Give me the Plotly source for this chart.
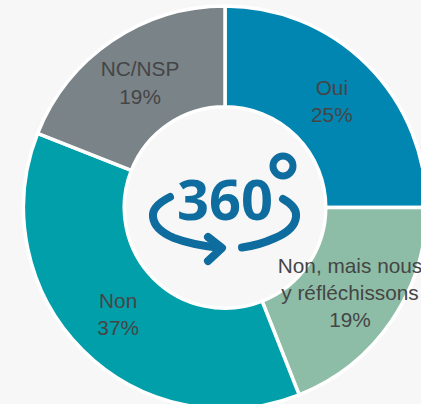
import plotly.graph_objects as go

categories = ["Oui", "Non, mais nous<br>y réfléchissons", "Non", "NC/NSP"]
shares = [25, 19, 37, 19]
slice_colors = ["#0086B1", "#8EBDA7", "#009FA9", "#7A8388"]
icon_digits = "360"
icon_color = "#0F6C9E"

W, H = 450, 414
CX, CY, R = 225, 207.5, 201.5


def px(x):
    return x / W


def py(y):
    return 1 - y / H


def path(points):
    out = []
    for cmd, coords in points:
        parts = [f"{px(coords[i])},{py(coords[i + 1])}" for i in range(0, len(coords), 2)]
        out.append(cmd + " ".join(parts))
    return " ".join(out)


fig = go.Figure(
    go.Pie(
        labels=categories,
        values=shares,
        sort=False,
        direction="clockwise",
        rotation=0,
        hole=0.5,
        marker=dict(colors=slice_colors, line=dict(color="#FFFFFF", width=3.5)),
        texttemplate="%{label}<br>%{value}%",
        textposition="inside",
        insidetextorientation="horizontal",
        insidetextfont=dict(family="Liberation Sans, Arial, sans-serif", size=20.8, color="#454545"),
        domain=dict(x=[(CX - R) / W, (CX + R) / W], y=[1 - (CY + R) / H, 1 - (CY - R) / H]),
        showlegend=False,
        hoverinfo="label+percent",
    )
)

stroke = dict(color=icon_color, width=8)
shapes = [
    dict(type="circle", xref="paper", yref="paper",
         x0=px(273), x1=px(293), y0=py(176), y1=py(156),
         line=dict(color=icon_color, width=7), fillcolor="rgba(0,0,0,0)"),
    dict(type="path", xref="paper", yref="paper", line=stroke,
         path=path([("M", [170, 197]), ("C", [158, 203, 152, 210, 153, 217]),
                    ("C", [154, 226, 162, 233, 174, 238]), ("C", [187, 243, 203, 246, 220, 248])])),
    dict(type="path", xref="paper", yref="paper", line=stroke,
         path=path([("M", [208, 237]), ("L", [222, 248]), ("L", [208, 261])])),
    dict(type="path", xref="paper", yref="paper", line=stroke,
         path=path([("M", [283, 199]), ("C", [292, 204, 297, 210, 296, 217]),
                    ("C", [295, 226, 287, 233, 275, 238]), ("C", [264, 243, 254, 246, 242, 247.5])])),
]

fig.update_layout(
    width=W,
    height=H,
    margin=dict(l=0, r=0, t=0, b=0),
    autosize=False,
    paper_bgcolor="#F7F7F7",
    plot_bgcolor="#F7F7F7",
    uniformtext=dict(minsize=20.8, mode="show"),
    shapes=shapes,
    annotations=[
        dict(text=f"<b>{icon_digits}</b>", xref="paper", yref="paper", x=px(224.5), y=py(198),
             xanchor="center", yanchor="middle", showarrow=False,
             font=dict(family="Noto Sans, Arial, sans-serif", size=56, color=icon_color))
    ],
)

fig.write_html(
    "out.html",
    config={"displayModeBar": False},
    post_script="document.documentElement.style.overflow='hidden';"
                "document.body.style.overflow='hidden';"
                "document.body.style.margin='0';"
                "document.body.style.background='#F7F7F7';"
                "document.querySelectorAll('.shapelayer path').forEach(function(p){"
                "p.style.strokeLinecap='round';p.style.strokeLinejoin='round';});",
)
